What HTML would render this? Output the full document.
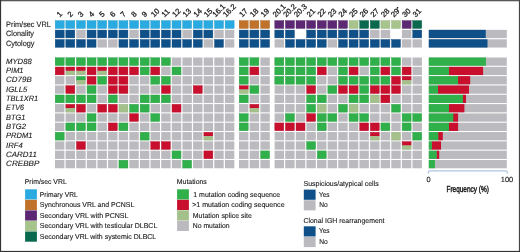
<!DOCTYPE html>
<html><head><meta charset="utf-8"><style>
html,body{margin:0;padding:0;background:#fff;}
svg{display:block;font-family:"Liberation Sans",sans-serif;fill:#1a1a1a;}
text{stroke:#1a1a1a;stroke-width:0.12px;text-rendering:geometricPrecision;}
</style></head><body>
<svg width="520" height="252" viewBox="0 0 520 252">
<rect x="0" y="0" width="520" height="252" fill="#fff"/>
<rect x="0.00" y="0.00" width="520.00" height="1.30" fill="#585858"/>
<rect x="0.00" y="0.00" width="1.10" height="252.00" fill="#333"/>
<rect x="518.90" y="0.00" width="1.10" height="252.00" fill="#444"/>
<rect x="0.00" y="250.90" width="520.00" height="1.10" fill="#333"/>
<rect x="55.20" y="20.60" width="9.00" height="7.85" fill="#29abe2" stroke="#2496c6" stroke-width="0.4"/>
<rect x="65.82" y="20.60" width="9.00" height="7.85" fill="#29abe2" stroke="#2496c6" stroke-width="0.4"/>
<rect x="76.44" y="20.60" width="9.00" height="7.85" fill="#29abe2" stroke="#2496c6" stroke-width="0.4"/>
<rect x="87.06" y="20.60" width="9.00" height="7.85" fill="#29abe2" stroke="#2496c6" stroke-width="0.4"/>
<rect x="97.68" y="20.60" width="9.00" height="7.85" fill="#29abe2" stroke="#2496c6" stroke-width="0.4"/>
<rect x="108.30" y="20.60" width="9.00" height="7.85" fill="#29abe2" stroke="#2496c6" stroke-width="0.4"/>
<rect x="118.92" y="20.60" width="9.00" height="7.85" fill="#29abe2" stroke="#2496c6" stroke-width="0.4"/>
<rect x="129.54" y="20.60" width="9.00" height="7.85" fill="#29abe2" stroke="#2496c6" stroke-width="0.4"/>
<rect x="140.16" y="20.60" width="9.00" height="7.85" fill="#29abe2" stroke="#2496c6" stroke-width="0.4"/>
<rect x="150.78" y="20.60" width="9.00" height="7.85" fill="#29abe2" stroke="#2496c6" stroke-width="0.4"/>
<rect x="161.40" y="20.60" width="9.00" height="7.85" fill="#29abe2" stroke="#2496c6" stroke-width="0.4"/>
<rect x="172.02" y="20.60" width="9.00" height="7.85" fill="#29abe2" stroke="#2496c6" stroke-width="0.4"/>
<rect x="182.64" y="20.60" width="9.00" height="7.85" fill="#29abe2" stroke="#2496c6" stroke-width="0.4"/>
<rect x="193.26" y="20.60" width="9.00" height="7.85" fill="#29abe2" stroke="#2496c6" stroke-width="0.4"/>
<rect x="203.88" y="20.60" width="9.00" height="7.85" fill="#29abe2" stroke="#2496c6" stroke-width="0.4"/>
<rect x="214.50" y="20.60" width="9.00" height="7.85" fill="#29abe2" stroke="#2496c6" stroke-width="0.4"/>
<rect x="225.12" y="20.60" width="9.00" height="7.85" fill="#29abe2" stroke="#2496c6" stroke-width="0.4"/>
<rect x="239.20" y="20.60" width="9.00" height="7.85" fill="#c0722a" stroke="#a86424" stroke-width="0.4"/>
<rect x="249.90" y="20.60" width="9.00" height="7.85" fill="#c0722a" stroke="#a86424" stroke-width="0.4"/>
<rect x="260.60" y="20.60" width="9.00" height="7.85" fill="#c0722a" stroke="#a86424" stroke-width="0.4"/>
<rect x="274.80" y="20.60" width="9.00" height="7.85" fill="#5d2873" stroke="#512365" stroke-width="0.4"/>
<rect x="285.41" y="20.60" width="9.00" height="7.85" fill="#5d2873" stroke="#512365" stroke-width="0.4"/>
<rect x="296.02" y="20.60" width="9.00" height="7.85" fill="#5d2873" stroke="#512365" stroke-width="0.4"/>
<rect x="306.63" y="20.60" width="9.00" height="7.85" fill="#5d2873" stroke="#512365" stroke-width="0.4"/>
<rect x="317.24" y="20.60" width="9.00" height="7.85" fill="#5d2873" stroke="#512365" stroke-width="0.4"/>
<rect x="327.85" y="20.60" width="9.00" height="7.85" fill="#5d2873" stroke="#512365" stroke-width="0.4"/>
<rect x="338.46" y="20.60" width="9.00" height="7.85" fill="#5d2873" stroke="#512365" stroke-width="0.4"/>
<rect x="349.07" y="20.60" width="9.00" height="7.85" fill="#a6c48c" stroke="#92ac7b" stroke-width="0.4"/>
<rect x="359.68" y="20.60" width="9.00" height="7.85" fill="#08694f" stroke="#075c45" stroke-width="0.4"/>
<rect x="370.29" y="20.60" width="9.00" height="7.85" fill="#08694f" stroke="#075c45" stroke-width="0.4"/>
<rect x="380.90" y="20.60" width="9.00" height="7.85" fill="#a6c48c" stroke="#92ac7b" stroke-width="0.4"/>
<rect x="391.51" y="20.60" width="9.00" height="7.85" fill="#a6c48c" stroke="#92ac7b" stroke-width="0.4"/>
<rect x="402.12" y="20.60" width="9.00" height="7.85" fill="#5d2873" stroke="#512365" stroke-width="0.4"/>
<rect x="412.73" y="20.60" width="9.00" height="7.85" fill="#08694f" stroke="#075c45" stroke-width="0.4"/>
<rect x="55.20" y="30.05" width="9.00" height="7.85" fill="#0f5089" stroke="#0d4678" stroke-width="0.4"/>
<rect x="65.82" y="30.05" width="9.00" height="7.85" fill="#0f5089" stroke="#0d4678" stroke-width="0.4"/>
<rect x="76.24" y="29.85" width="9.40" height="8.25" fill="#bbbabf"/>
<rect x="87.06" y="30.05" width="9.00" height="7.85" fill="#0f5089" stroke="#0d4678" stroke-width="0.4"/>
<rect x="97.68" y="30.05" width="9.00" height="7.85" fill="#0f5089" stroke="#0d4678" stroke-width="0.4"/>
<rect x="108.30" y="30.05" width="9.00" height="7.85" fill="#0f5089" stroke="#0d4678" stroke-width="0.4"/>
<rect x="118.92" y="30.05" width="9.00" height="7.85" fill="#0f5089" stroke="#0d4678" stroke-width="0.4"/>
<rect x="129.34" y="29.85" width="9.40" height="8.25" fill="#bbbabf"/>
<rect x="140.16" y="30.05" width="9.00" height="7.85" fill="#0f5089" stroke="#0d4678" stroke-width="0.4"/>
<rect x="150.78" y="30.05" width="9.00" height="7.85" fill="#0f5089" stroke="#0d4678" stroke-width="0.4"/>
<rect x="161.40" y="30.05" width="9.00" height="7.85" fill="#0f5089" stroke="#0d4678" stroke-width="0.4"/>
<rect x="172.02" y="30.05" width="9.00" height="7.85" fill="#0f5089" stroke="#0d4678" stroke-width="0.4"/>
<rect x="182.44" y="29.85" width="9.40" height="8.25" fill="#bbbabf"/>
<rect x="193.26" y="30.05" width="9.00" height="7.85" fill="#0f5089" stroke="#0d4678" stroke-width="0.4"/>
<rect x="203.88" y="30.05" width="9.00" height="7.85" fill="#0f5089" stroke="#0d4678" stroke-width="0.4"/>
<rect x="214.30" y="29.85" width="9.40" height="8.25" fill="#bbbabf"/>
<rect x="224.92" y="29.85" width="9.40" height="8.25" fill="#bbbabf"/>
<rect x="239.20" y="30.05" width="9.00" height="7.85" fill="#0f5089" stroke="#0d4678" stroke-width="0.4"/>
<rect x="249.90" y="30.05" width="9.00" height="7.85" fill="#0f5089" stroke="#0d4678" stroke-width="0.4"/>
<rect x="260.60" y="30.05" width="9.00" height="7.85" fill="#0f5089" stroke="#0d4678" stroke-width="0.4"/>
<rect x="274.80" y="30.05" width="9.00" height="7.85" fill="#0f5089" stroke="#0d4678" stroke-width="0.4"/>
<rect x="285.41" y="30.05" width="9.00" height="7.85" fill="#0f5089" stroke="#0d4678" stroke-width="0.4"/>
<rect x="306.63" y="30.05" width="9.00" height="7.85" fill="#0f5089" stroke="#0d4678" stroke-width="0.4"/>
<rect x="317.24" y="30.05" width="9.00" height="7.85" fill="#0f5089" stroke="#0d4678" stroke-width="0.4"/>
<rect x="327.85" y="30.05" width="9.00" height="7.85" fill="#0f5089" stroke="#0d4678" stroke-width="0.4"/>
<rect x="338.46" y="30.05" width="9.00" height="7.85" fill="#0f5089" stroke="#0d4678" stroke-width="0.4"/>
<rect x="349.07" y="30.05" width="9.00" height="7.85" fill="#0f5089" stroke="#0d4678" stroke-width="0.4"/>
<rect x="359.68" y="30.05" width="9.00" height="7.85" fill="#0f5089" stroke="#0d4678" stroke-width="0.4"/>
<rect x="370.09" y="29.85" width="9.40" height="8.25" fill="#bbbabf"/>
<rect x="380.70" y="29.85" width="9.40" height="8.25" fill="#bbbabf"/>
<rect x="401.92" y="29.85" width="9.40" height="8.25" fill="#bbbabf"/>
<rect x="412.73" y="30.05" width="9.00" height="7.85" fill="#0f5089" stroke="#0d4678" stroke-width="0.4"/>
<rect x="428.80" y="29.85" width="78.00" height="8.25" fill="#bbbabf"/>
<rect x="428.80" y="29.85" width="56.95" height="8.25" fill="#0f5089"/>
<rect x="55.20" y="39.50" width="9.00" height="7.85" fill="#0f5089" stroke="#0d4678" stroke-width="0.4"/>
<rect x="65.82" y="39.50" width="9.00" height="7.85" fill="#0f5089" stroke="#0d4678" stroke-width="0.4"/>
<rect x="76.44" y="39.50" width="9.00" height="7.85" fill="#0f5089" stroke="#0d4678" stroke-width="0.4"/>
<rect x="87.06" y="39.50" width="9.00" height="7.85" fill="#0f5089" stroke="#0d4678" stroke-width="0.4"/>
<rect x="97.48" y="39.30" width="9.40" height="8.25" fill="#bbbabf"/>
<rect x="108.10" y="39.30" width="9.40" height="8.25" fill="#bbbabf"/>
<rect x="118.92" y="39.50" width="9.00" height="7.85" fill="#0f5089" stroke="#0d4678" stroke-width="0.4"/>
<rect x="129.54" y="39.50" width="9.00" height="7.85" fill="#0f5089" stroke="#0d4678" stroke-width="0.4"/>
<rect x="140.16" y="39.50" width="9.00" height="7.85" fill="#0f5089" stroke="#0d4678" stroke-width="0.4"/>
<rect x="150.78" y="39.50" width="9.00" height="7.85" fill="#0f5089" stroke="#0d4678" stroke-width="0.4"/>
<rect x="161.40" y="39.50" width="9.00" height="7.85" fill="#0f5089" stroke="#0d4678" stroke-width="0.4"/>
<rect x="172.02" y="39.50" width="9.00" height="7.85" fill="#0f5089" stroke="#0d4678" stroke-width="0.4"/>
<rect x="182.64" y="39.50" width="9.00" height="7.85" fill="#0f5089" stroke="#0d4678" stroke-width="0.4"/>
<rect x="193.26" y="39.50" width="9.00" height="7.85" fill="#0f5089" stroke="#0d4678" stroke-width="0.4"/>
<rect x="203.68" y="39.30" width="9.40" height="8.25" fill="#bbbabf"/>
<rect x="214.50" y="39.50" width="9.00" height="7.85" fill="#0f5089" stroke="#0d4678" stroke-width="0.4"/>
<rect x="224.92" y="39.30" width="9.40" height="8.25" fill="#bbbabf"/>
<rect x="239.20" y="39.50" width="9.00" height="7.85" fill="#0f5089" stroke="#0d4678" stroke-width="0.4"/>
<rect x="249.90" y="39.50" width="9.00" height="7.85" fill="#0f5089" stroke="#0d4678" stroke-width="0.4"/>
<rect x="260.60" y="39.50" width="9.00" height="7.85" fill="#0f5089" stroke="#0d4678" stroke-width="0.4"/>
<rect x="274.60" y="39.30" width="9.40" height="8.25" fill="#bbbabf"/>
<rect x="285.41" y="39.50" width="9.00" height="7.85" fill="#0f5089" stroke="#0d4678" stroke-width="0.4"/>
<rect x="296.02" y="39.50" width="9.00" height="7.85" fill="#0f5089" stroke="#0d4678" stroke-width="0.4"/>
<rect x="306.63" y="39.50" width="9.00" height="7.85" fill="#0f5089" stroke="#0d4678" stroke-width="0.4"/>
<rect x="317.24" y="39.50" width="9.00" height="7.85" fill="#0f5089" stroke="#0d4678" stroke-width="0.4"/>
<rect x="327.65" y="39.30" width="9.40" height="8.25" fill="#bbbabf"/>
<rect x="338.46" y="39.50" width="9.00" height="7.85" fill="#0f5089" stroke="#0d4678" stroke-width="0.4"/>
<rect x="349.07" y="39.50" width="9.00" height="7.85" fill="#0f5089" stroke="#0d4678" stroke-width="0.4"/>
<rect x="359.68" y="39.50" width="9.00" height="7.85" fill="#0f5089" stroke="#0d4678" stroke-width="0.4"/>
<rect x="370.29" y="39.50" width="9.00" height="7.85" fill="#0f5089" stroke="#0d4678" stroke-width="0.4"/>
<rect x="380.90" y="39.50" width="9.00" height="7.85" fill="#0f5089" stroke="#0d4678" stroke-width="0.4"/>
<rect x="391.51" y="39.50" width="9.00" height="7.85" fill="#0f5089" stroke="#0d4678" stroke-width="0.4"/>
<rect x="401.92" y="39.30" width="9.40" height="8.25" fill="#bbbabf"/>
<rect x="412.53" y="39.30" width="9.40" height="8.25" fill="#bbbabf"/>
<rect x="428.80" y="39.30" width="78.00" height="8.25" fill="#bbbabf"/>
<rect x="428.80" y="39.30" width="58.70" height="8.25" fill="#0f5089"/>
<rect x="55.20" y="57.70" width="9.00" height="7.85" fill="#2fb04a" stroke="#299a41" stroke-width="0.4"/>
<rect x="65.82" y="57.70" width="9.00" height="7.85" fill="#2fb04a" stroke="#299a41" stroke-width="0.4"/>
<rect x="76.44" y="57.70" width="9.00" height="7.85" fill="#2fb04a" stroke="#299a41" stroke-width="0.4"/>
<rect x="87.06" y="57.70" width="9.00" height="7.85" fill="#2fb04a" stroke="#299a41" stroke-width="0.4"/>
<rect x="97.68" y="57.70" width="9.00" height="7.85" fill="#2fb04a" stroke="#299a41" stroke-width="0.4"/>
<rect x="108.30" y="57.70" width="9.00" height="7.85" fill="#2fb04a" stroke="#299a41" stroke-width="0.4"/>
<rect x="118.92" y="57.70" width="9.00" height="7.85" fill="#2fb04a" stroke="#299a41" stroke-width="0.4"/>
<rect x="129.54" y="57.70" width="9.00" height="7.85" fill="#2fb04a" stroke="#299a41" stroke-width="0.4"/>
<rect x="140.16" y="57.70" width="9.00" height="7.85" fill="#2fb04a" stroke="#299a41" stroke-width="0.4"/>
<rect x="150.78" y="57.70" width="9.00" height="7.85" fill="#2fb04a" stroke="#299a41" stroke-width="0.4"/>
<rect x="161.40" y="57.70" width="9.00" height="7.85" fill="#2fb04a" stroke="#299a41" stroke-width="0.4"/>
<rect x="171.82" y="57.50" width="9.40" height="8.25" fill="#bbbabf"/>
<rect x="182.44" y="57.50" width="9.40" height="8.25" fill="#bbbabf"/>
<rect x="193.06" y="57.50" width="9.40" height="8.25" fill="#bbbabf"/>
<rect x="203.68" y="57.50" width="9.40" height="8.25" fill="#bbbabf"/>
<rect x="214.30" y="57.50" width="9.40" height="8.25" fill="#bbbabf"/>
<rect x="224.92" y="57.50" width="9.40" height="8.25" fill="#bbbabf"/>
<rect x="239.20" y="57.70" width="9.00" height="7.85" fill="#2fb04a" stroke="#299a41" stroke-width="0.4"/>
<rect x="249.90" y="57.70" width="9.00" height="7.85" fill="#2fb04a" stroke="#299a41" stroke-width="0.4"/>
<rect x="260.40" y="57.50" width="9.40" height="8.25" fill="#bbbabf"/>
<rect x="274.80" y="57.70" width="9.00" height="7.85" fill="#2fb04a" stroke="#299a41" stroke-width="0.4"/>
<rect x="285.41" y="57.70" width="9.00" height="7.85" fill="#2fb04a" stroke="#299a41" stroke-width="0.4"/>
<rect x="296.02" y="57.70" width="9.00" height="7.85" fill="#2fb04a" stroke="#299a41" stroke-width="0.4"/>
<rect x="306.63" y="57.70" width="9.00" height="7.85" fill="#2fb04a" stroke="#299a41" stroke-width="0.4"/>
<rect x="317.24" y="57.70" width="9.00" height="7.85" fill="#2fb04a" stroke="#299a41" stroke-width="0.4"/>
<rect x="327.85" y="57.70" width="9.00" height="7.85" fill="#2fb04a" stroke="#299a41" stroke-width="0.4"/>
<rect x="338.46" y="57.70" width="9.00" height="7.85" fill="#2fb04a" stroke="#299a41" stroke-width="0.4"/>
<rect x="349.07" y="57.70" width="9.00" height="7.85" fill="#2fb04a" stroke="#299a41" stroke-width="0.4"/>
<rect x="359.68" y="57.70" width="9.00" height="7.85" fill="#2fb04a" stroke="#299a41" stroke-width="0.4"/>
<rect x="370.29" y="57.70" width="9.00" height="7.85" fill="#2fb04a" stroke="#299a41" stroke-width="0.4"/>
<rect x="380.90" y="57.70" width="9.00" height="7.85" fill="#2fb04a" stroke="#299a41" stroke-width="0.4"/>
<rect x="391.51" y="57.70" width="9.00" height="7.85" fill="#2fb04a" stroke="#299a41" stroke-width="0.4"/>
<rect x="401.92" y="57.50" width="9.40" height="8.25" fill="#bbbabf"/>
<rect x="412.53" y="57.50" width="9.40" height="8.25" fill="#bbbabf"/>
<rect x="428.80" y="57.50" width="78.00" height="8.25" fill="#bbbabf"/>
<rect x="428.80" y="57.50" width="57.10" height="8.25" fill="#2fb04a"/>
<rect x="55.20" y="67.02" width="9.00" height="7.85" fill="#c8102e" stroke="#b00e28" stroke-width="0.4"/>
<rect x="65.82" y="67.02" width="9.00" height="3.73" fill="#c8102e" stroke="#b00e28" stroke-width="0.4"/>
<rect x="65.82" y="71.14" width="9.00" height="3.73" fill="#a4c08b" stroke="#90a87a" stroke-width="0.4"/>
<rect x="76.44" y="67.02" width="9.00" height="3.73" fill="#c8102e" stroke="#b00e28" stroke-width="0.4"/>
<rect x="76.44" y="71.14" width="9.00" height="3.73" fill="#a4c08b" stroke="#90a87a" stroke-width="0.4"/>
<rect x="87.06" y="67.02" width="9.00" height="7.85" fill="#c8102e" stroke="#b00e28" stroke-width="0.4"/>
<rect x="97.68" y="67.02" width="9.00" height="3.73" fill="#c8102e" stroke="#b00e28" stroke-width="0.4"/>
<rect x="97.68" y="71.14" width="9.00" height="3.73" fill="#a4c08b" stroke="#90a87a" stroke-width="0.4"/>
<rect x="108.30" y="67.02" width="9.00" height="7.85" fill="#c8102e" stroke="#b00e28" stroke-width="0.4"/>
<rect x="118.92" y="67.02" width="9.00" height="7.85" fill="#c8102e" stroke="#b00e28" stroke-width="0.4"/>
<rect x="129.54" y="67.02" width="9.00" height="7.85" fill="#c8102e" stroke="#b00e28" stroke-width="0.4"/>
<rect x="140.16" y="67.02" width="9.00" height="7.85" fill="#2fb04a" stroke="#299a41" stroke-width="0.4"/>
<rect x="150.78" y="67.02" width="9.00" height="7.85" fill="#c8102e" stroke="#b00e28" stroke-width="0.4"/>
<rect x="161.20" y="66.82" width="9.40" height="8.25" fill="#bbbabf"/>
<rect x="172.02" y="67.02" width="9.00" height="7.85" fill="#2fb04a" stroke="#299a41" stroke-width="0.4"/>
<rect x="182.44" y="66.82" width="9.40" height="8.25" fill="#bbbabf"/>
<rect x="193.06" y="66.82" width="9.40" height="8.25" fill="#bbbabf"/>
<rect x="203.68" y="66.82" width="9.40" height="8.25" fill="#bbbabf"/>
<rect x="214.30" y="66.82" width="9.40" height="8.25" fill="#bbbabf"/>
<rect x="224.92" y="66.82" width="9.40" height="8.25" fill="#bbbabf"/>
<rect x="239.20" y="67.02" width="9.00" height="7.85" fill="#2fb04a" stroke="#299a41" stroke-width="0.4"/>
<rect x="249.90" y="67.02" width="9.00" height="7.85" fill="#c8102e" stroke="#b00e28" stroke-width="0.4"/>
<rect x="260.40" y="66.82" width="9.40" height="8.25" fill="#bbbabf"/>
<rect x="274.80" y="67.02" width="9.00" height="7.85" fill="#2fb04a" stroke="#299a41" stroke-width="0.4"/>
<rect x="285.41" y="67.02" width="9.00" height="7.85" fill="#2fb04a" stroke="#299a41" stroke-width="0.4"/>
<rect x="296.02" y="67.02" width="9.00" height="7.85" fill="#2fb04a" stroke="#299a41" stroke-width="0.4"/>
<rect x="306.63" y="67.02" width="9.00" height="7.85" fill="#2fb04a" stroke="#299a41" stroke-width="0.4"/>
<rect x="317.24" y="67.02" width="9.00" height="7.85" fill="#c8102e" stroke="#b00e28" stroke-width="0.4"/>
<rect x="327.65" y="66.82" width="9.40" height="8.25" fill="#bbbabf"/>
<rect x="338.46" y="67.02" width="9.00" height="7.85" fill="#2fb04a" stroke="#299a41" stroke-width="0.4"/>
<rect x="349.07" y="67.02" width="9.00" height="7.85" fill="#c8102e" stroke="#b00e28" stroke-width="0.4"/>
<rect x="359.48" y="66.82" width="9.40" height="8.25" fill="#bbbabf"/>
<rect x="370.29" y="67.02" width="9.00" height="7.85" fill="#2fb04a" stroke="#299a41" stroke-width="0.4"/>
<rect x="380.90" y="67.02" width="9.00" height="7.85" fill="#c8102e" stroke="#b00e28" stroke-width="0.4"/>
<rect x="391.51" y="67.02" width="9.00" height="7.85" fill="#2fb04a" stroke="#299a41" stroke-width="0.4"/>
<rect x="402.12" y="67.02" width="9.00" height="7.85" fill="#c8102e" stroke="#b00e28" stroke-width="0.4"/>
<rect x="412.53" y="66.82" width="9.40" height="8.25" fill="#bbbabf"/>
<rect x="428.80" y="66.82" width="78.00" height="8.25" fill="#bbbabf"/>
<rect x="448.70" y="66.82" width="34.40" height="8.25" fill="#c8102e"/>
<rect x="428.80" y="66.82" width="20.20" height="8.25" fill="#2fb04a"/>
<rect x="55.00" y="76.14" width="9.40" height="8.25" fill="#bbbabf"/>
<rect x="65.62" y="76.14" width="9.40" height="8.25" fill="#bbbabf"/>
<rect x="76.44" y="76.34" width="9.00" height="3.73" fill="#2fb04a" stroke="#299a41" stroke-width="0.4"/>
<rect x="76.44" y="80.47" width="9.00" height="3.73" fill="#a4c08b" stroke="#90a87a" stroke-width="0.4"/>
<rect x="87.06" y="76.34" width="9.00" height="7.85" fill="#c8102e" stroke="#b00e28" stroke-width="0.4"/>
<rect x="97.68" y="76.34" width="9.00" height="7.85" fill="#2fb04a" stroke="#299a41" stroke-width="0.4"/>
<rect x="108.30" y="76.34" width="9.00" height="7.85" fill="#c8102e" stroke="#b00e28" stroke-width="0.4"/>
<rect x="118.92" y="76.34" width="9.00" height="7.85" fill="#c8102e" stroke="#b00e28" stroke-width="0.4"/>
<rect x="129.34" y="76.14" width="9.40" height="8.25" fill="#bbbabf"/>
<rect x="139.96" y="76.14" width="9.40" height="8.25" fill="#bbbabf"/>
<rect x="150.78" y="76.34" width="9.00" height="7.85" fill="#2fb04a" stroke="#299a41" stroke-width="0.4"/>
<rect x="161.40" y="76.34" width="9.00" height="7.85" fill="#2fb04a" stroke="#299a41" stroke-width="0.4"/>
<rect x="171.82" y="76.14" width="9.40" height="8.25" fill="#bbbabf"/>
<rect x="182.44" y="76.14" width="9.40" height="8.25" fill="#bbbabf"/>
<rect x="193.06" y="76.14" width="9.40" height="8.25" fill="#bbbabf"/>
<rect x="203.68" y="76.14" width="9.40" height="8.25" fill="#bbbabf"/>
<rect x="214.30" y="76.14" width="9.40" height="8.25" fill="#bbbabf"/>
<rect x="224.92" y="76.14" width="9.40" height="8.25" fill="#bbbabf"/>
<rect x="239.20" y="76.34" width="9.00" height="7.85" fill="#2fb04a" stroke="#299a41" stroke-width="0.4"/>
<rect x="249.70" y="76.14" width="9.40" height="8.25" fill="#bbbabf"/>
<rect x="260.40" y="76.14" width="9.40" height="8.25" fill="#bbbabf"/>
<rect x="274.80" y="76.34" width="9.00" height="7.85" fill="#2fb04a" stroke="#299a41" stroke-width="0.4"/>
<rect x="285.41" y="76.34" width="9.00" height="7.85" fill="#2fb04a" stroke="#299a41" stroke-width="0.4"/>
<rect x="296.02" y="76.34" width="9.00" height="7.85" fill="#2fb04a" stroke="#299a41" stroke-width="0.4"/>
<rect x="306.63" y="76.34" width="9.00" height="7.85" fill="#2fb04a" stroke="#299a41" stroke-width="0.4"/>
<rect x="317.04" y="76.14" width="9.40" height="8.25" fill="#bbbabf"/>
<rect x="327.65" y="76.14" width="9.40" height="8.25" fill="#bbbabf"/>
<rect x="338.46" y="76.34" width="9.00" height="7.85" fill="#2fb04a" stroke="#299a41" stroke-width="0.4"/>
<rect x="349.07" y="76.34" width="9.00" height="7.85" fill="#2fb04a" stroke="#299a41" stroke-width="0.4"/>
<rect x="359.68" y="76.34" width="9.00" height="7.85" fill="#2fb04a" stroke="#299a41" stroke-width="0.4"/>
<rect x="370.29" y="76.34" width="9.00" height="7.85" fill="#2fb04a" stroke="#299a41" stroke-width="0.4"/>
<rect x="380.90" y="76.34" width="9.00" height="7.85" fill="#2fb04a" stroke="#299a41" stroke-width="0.4"/>
<rect x="391.51" y="76.34" width="9.00" height="7.85" fill="#c8102e" stroke="#b00e28" stroke-width="0.4"/>
<rect x="402.12" y="76.34" width="9.00" height="3.73" fill="#c8102e" stroke="#b00e28" stroke-width="0.4"/>
<rect x="402.12" y="80.47" width="9.00" height="3.73" fill="#a4c08b" stroke="#90a87a" stroke-width="0.4"/>
<rect x="412.53" y="76.14" width="9.40" height="8.25" fill="#bbbabf"/>
<rect x="428.80" y="76.14" width="78.00" height="8.25" fill="#bbbabf"/>
<rect x="457.80" y="76.14" width="12.40" height="8.25" fill="#c8102e"/>
<rect x="428.80" y="76.14" width="29.30" height="8.25" fill="#2fb04a"/>
<rect x="55.00" y="85.46" width="9.40" height="8.25" fill="#bbbabf"/>
<rect x="65.82" y="85.66" width="9.00" height="7.85" fill="#c8102e" stroke="#b00e28" stroke-width="0.4"/>
<rect x="76.24" y="85.46" width="9.40" height="8.25" fill="#bbbabf"/>
<rect x="87.06" y="85.66" width="9.00" height="7.85" fill="#2fb04a" stroke="#299a41" stroke-width="0.4"/>
<rect x="97.48" y="85.46" width="9.40" height="8.25" fill="#bbbabf"/>
<rect x="108.30" y="85.66" width="9.00" height="7.85" fill="#c8102e" stroke="#b00e28" stroke-width="0.4"/>
<rect x="118.92" y="85.66" width="9.00" height="7.85" fill="#c8102e" stroke="#b00e28" stroke-width="0.4"/>
<rect x="129.34" y="85.46" width="9.40" height="8.25" fill="#bbbabf"/>
<rect x="139.96" y="85.46" width="9.40" height="8.25" fill="#bbbabf"/>
<rect x="150.58" y="85.46" width="9.40" height="8.25" fill="#bbbabf"/>
<rect x="161.40" y="85.66" width="9.00" height="7.85" fill="#c8102e" stroke="#b00e28" stroke-width="0.4"/>
<rect x="171.82" y="85.46" width="9.40" height="8.25" fill="#bbbabf"/>
<rect x="182.44" y="85.46" width="9.40" height="8.25" fill="#bbbabf"/>
<rect x="193.26" y="85.66" width="9.00" height="7.85" fill="#c8102e" stroke="#b00e28" stroke-width="0.4"/>
<rect x="203.68" y="85.46" width="9.40" height="8.25" fill="#bbbabf"/>
<rect x="214.30" y="85.46" width="9.40" height="8.25" fill="#bbbabf"/>
<rect x="224.92" y="85.46" width="9.40" height="8.25" fill="#bbbabf"/>
<rect x="239.20" y="85.66" width="9.00" height="3.73" fill="#c8102e" stroke="#b00e28" stroke-width="0.4"/>
<rect x="239.20" y="89.79" width="9.00" height="3.73" fill="#a4c08b" stroke="#90a87a" stroke-width="0.4"/>
<rect x="249.90" y="85.66" width="9.00" height="7.85" fill="#2fb04a" stroke="#299a41" stroke-width="0.4"/>
<rect x="260.40" y="85.46" width="9.40" height="8.25" fill="#bbbabf"/>
<rect x="274.60" y="85.46" width="9.40" height="8.25" fill="#bbbabf"/>
<rect x="285.21" y="85.46" width="9.40" height="8.25" fill="#bbbabf"/>
<rect x="295.82" y="85.46" width="9.40" height="8.25" fill="#bbbabf"/>
<rect x="306.63" y="85.66" width="9.00" height="7.85" fill="#c8102e" stroke="#b00e28" stroke-width="0.4"/>
<rect x="317.04" y="85.46" width="9.40" height="8.25" fill="#bbbabf"/>
<rect x="327.85" y="85.66" width="9.00" height="7.85" fill="#2fb04a" stroke="#299a41" stroke-width="0.4"/>
<rect x="338.46" y="85.66" width="9.00" height="7.85" fill="#c8102e" stroke="#b00e28" stroke-width="0.4"/>
<rect x="349.07" y="85.66" width="9.00" height="7.85" fill="#c8102e" stroke="#b00e28" stroke-width="0.4"/>
<rect x="359.68" y="85.66" width="9.00" height="7.85" fill="#2fb04a" stroke="#299a41" stroke-width="0.4"/>
<rect x="370.29" y="85.66" width="9.00" height="7.85" fill="#c8102e" stroke="#b00e28" stroke-width="0.4"/>
<rect x="380.90" y="85.66" width="9.00" height="7.85" fill="#c8102e" stroke="#b00e28" stroke-width="0.4"/>
<rect x="391.51" y="85.66" width="9.00" height="7.85" fill="#c8102e" stroke="#b00e28" stroke-width="0.4"/>
<rect x="401.92" y="85.46" width="9.40" height="8.25" fill="#bbbabf"/>
<rect x="412.53" y="85.46" width="9.40" height="8.25" fill="#bbbabf"/>
<rect x="428.80" y="85.46" width="78.00" height="8.25" fill="#bbbabf"/>
<rect x="437.70" y="85.46" width="31.30" height="8.25" fill="#c8102e"/>
<rect x="428.80" y="85.46" width="9.20" height="8.25" fill="#2fb04a"/>
<rect x="55.20" y="94.98" width="9.00" height="7.85" fill="#2fb04a" stroke="#299a41" stroke-width="0.4"/>
<rect x="65.82" y="94.98" width="9.00" height="7.85" fill="#2fb04a" stroke="#299a41" stroke-width="0.4"/>
<rect x="76.44" y="94.98" width="9.00" height="7.85" fill="#2fb04a" stroke="#299a41" stroke-width="0.4"/>
<rect x="87.06" y="94.98" width="9.00" height="7.85" fill="#2fb04a" stroke="#299a41" stroke-width="0.4"/>
<rect x="97.48" y="94.78" width="9.40" height="8.25" fill="#bbbabf"/>
<rect x="108.30" y="94.98" width="9.00" height="7.85" fill="#2fb04a" stroke="#299a41" stroke-width="0.4"/>
<rect x="118.72" y="94.78" width="9.40" height="8.25" fill="#bbbabf"/>
<rect x="129.34" y="94.78" width="9.40" height="8.25" fill="#bbbabf"/>
<rect x="140.16" y="94.98" width="9.00" height="7.85" fill="#2fb04a" stroke="#299a41" stroke-width="0.4"/>
<rect x="150.78" y="94.98" width="9.00" height="7.85" fill="#2fb04a" stroke="#299a41" stroke-width="0.4"/>
<rect x="161.40" y="94.98" width="9.00" height="7.85" fill="#2fb04a" stroke="#299a41" stroke-width="0.4"/>
<rect x="171.82" y="94.78" width="9.40" height="8.25" fill="#bbbabf"/>
<rect x="182.44" y="94.78" width="9.40" height="8.25" fill="#bbbabf"/>
<rect x="193.06" y="94.78" width="9.40" height="8.25" fill="#bbbabf"/>
<rect x="203.68" y="94.78" width="9.40" height="8.25" fill="#bbbabf"/>
<rect x="214.30" y="94.78" width="9.40" height="8.25" fill="#bbbabf"/>
<rect x="224.92" y="94.78" width="9.40" height="8.25" fill="#bbbabf"/>
<rect x="239.20" y="94.98" width="9.00" height="7.85" fill="#2fb04a" stroke="#299a41" stroke-width="0.4"/>
<rect x="249.70" y="94.78" width="9.40" height="8.25" fill="#bbbabf"/>
<rect x="260.40" y="94.78" width="9.40" height="8.25" fill="#bbbabf"/>
<rect x="274.60" y="94.78" width="9.40" height="8.25" fill="#bbbabf"/>
<rect x="285.21" y="94.78" width="9.40" height="8.25" fill="#bbbabf"/>
<rect x="295.82" y="94.78" width="9.40" height="8.25" fill="#bbbabf"/>
<rect x="306.63" y="94.98" width="9.00" height="7.85" fill="#2fb04a" stroke="#299a41" stroke-width="0.4"/>
<rect x="317.24" y="94.98" width="9.00" height="7.85" fill="#2fb04a" stroke="#299a41" stroke-width="0.4"/>
<rect x="327.65" y="94.78" width="9.40" height="8.25" fill="#bbbabf"/>
<rect x="338.26" y="94.78" width="9.40" height="8.25" fill="#bbbabf"/>
<rect x="349.07" y="94.98" width="9.00" height="7.85" fill="#2fb04a" stroke="#299a41" stroke-width="0.4"/>
<rect x="359.68" y="94.98" width="9.00" height="7.85" fill="#2fb04a" stroke="#299a41" stroke-width="0.4"/>
<rect x="370.29" y="94.98" width="9.00" height="7.85" fill="#a4c08b" stroke="#90a87a" stroke-width="0.4"/>
<rect x="380.90" y="94.98" width="9.00" height="7.85" fill="#c8102e" stroke="#b00e28" stroke-width="0.4"/>
<rect x="391.31" y="94.78" width="9.40" height="8.25" fill="#bbbabf"/>
<rect x="401.92" y="94.78" width="9.40" height="8.25" fill="#bbbabf"/>
<rect x="412.53" y="94.78" width="9.40" height="8.25" fill="#bbbabf"/>
<rect x="428.80" y="94.78" width="78.00" height="8.25" fill="#bbbabf"/>
<rect x="462.60" y="94.78" width="3.40" height="8.25" fill="#c8102e"/>
<rect x="428.80" y="94.78" width="34.10" height="8.25" fill="#2fb04a"/>
<rect x="55.00" y="104.10" width="9.40" height="8.25" fill="#bbbabf"/>
<rect x="65.82" y="104.30" width="9.00" height="3.73" fill="#c8102e" stroke="#b00e28" stroke-width="0.4"/>
<rect x="65.82" y="108.42" width="9.00" height="3.73" fill="#a4c08b" stroke="#90a87a" stroke-width="0.4"/>
<rect x="76.44" y="104.30" width="9.00" height="7.85" fill="#c8102e" stroke="#b00e28" stroke-width="0.4"/>
<rect x="86.86" y="104.10" width="9.40" height="8.25" fill="#bbbabf"/>
<rect x="97.68" y="104.30" width="9.00" height="7.85" fill="#c8102e" stroke="#b00e28" stroke-width="0.4"/>
<rect x="108.30" y="104.30" width="9.00" height="7.85" fill="#c8102e" stroke="#b00e28" stroke-width="0.4"/>
<rect x="118.92" y="104.30" width="9.00" height="7.85" fill="#a4c08b" stroke="#90a87a" stroke-width="0.4"/>
<rect x="129.54" y="104.30" width="9.00" height="7.85" fill="#2fb04a" stroke="#299a41" stroke-width="0.4"/>
<rect x="140.16" y="104.30" width="9.00" height="7.85" fill="#2fb04a" stroke="#299a41" stroke-width="0.4"/>
<rect x="150.58" y="104.10" width="9.40" height="8.25" fill="#bbbabf"/>
<rect x="161.20" y="104.10" width="9.40" height="8.25" fill="#bbbabf"/>
<rect x="172.02" y="104.30" width="9.00" height="7.85" fill="#c8102e" stroke="#b00e28" stroke-width="0.4"/>
<rect x="182.44" y="104.10" width="9.40" height="8.25" fill="#bbbabf"/>
<rect x="193.06" y="104.10" width="9.40" height="8.25" fill="#bbbabf"/>
<rect x="203.68" y="104.10" width="9.40" height="8.25" fill="#bbbabf"/>
<rect x="214.30" y="104.10" width="9.40" height="8.25" fill="#bbbabf"/>
<rect x="224.92" y="104.10" width="9.40" height="8.25" fill="#bbbabf"/>
<rect x="239.00" y="104.10" width="9.40" height="8.25" fill="#bbbabf"/>
<rect x="249.90" y="104.30" width="9.00" height="3.73" fill="#c8102e" stroke="#b00e28" stroke-width="0.4"/>
<rect x="249.90" y="108.42" width="9.00" height="3.73" fill="#a4c08b" stroke="#90a87a" stroke-width="0.4"/>
<rect x="260.40" y="104.10" width="9.40" height="8.25" fill="#bbbabf"/>
<rect x="274.60" y="104.10" width="9.40" height="8.25" fill="#bbbabf"/>
<rect x="285.21" y="104.10" width="9.40" height="8.25" fill="#bbbabf"/>
<rect x="295.82" y="104.10" width="9.40" height="8.25" fill="#bbbabf"/>
<rect x="306.63" y="104.30" width="9.00" height="7.85" fill="#2fb04a" stroke="#299a41" stroke-width="0.4"/>
<rect x="317.24" y="104.30" width="9.00" height="7.85" fill="#a4c08b" stroke="#90a87a" stroke-width="0.4"/>
<rect x="327.65" y="104.10" width="9.40" height="8.25" fill="#bbbabf"/>
<rect x="338.46" y="104.30" width="9.00" height="7.85" fill="#2fb04a" stroke="#299a41" stroke-width="0.4"/>
<rect x="349.07" y="104.30" width="9.00" height="7.85" fill="#a4c08b" stroke="#90a87a" stroke-width="0.4"/>
<rect x="359.48" y="104.10" width="9.40" height="8.25" fill="#bbbabf"/>
<rect x="370.09" y="104.10" width="9.40" height="8.25" fill="#bbbabf"/>
<rect x="380.70" y="104.10" width="9.40" height="8.25" fill="#bbbabf"/>
<rect x="391.51" y="104.30" width="9.00" height="7.85" fill="#2fb04a" stroke="#299a41" stroke-width="0.4"/>
<rect x="401.92" y="104.10" width="9.40" height="8.25" fill="#bbbabf"/>
<rect x="412.53" y="104.10" width="9.40" height="8.25" fill="#bbbabf"/>
<rect x="428.80" y="104.10" width="78.00" height="8.25" fill="#bbbabf"/>
<rect x="448.70" y="104.10" width="15.70" height="8.25" fill="#c8102e"/>
<rect x="428.80" y="104.10" width="20.20" height="8.25" fill="#2fb04a"/>
<rect x="55.00" y="113.42" width="9.40" height="8.25" fill="#bbbabf"/>
<rect x="65.62" y="113.42" width="9.40" height="8.25" fill="#bbbabf"/>
<rect x="76.24" y="113.42" width="9.40" height="8.25" fill="#bbbabf"/>
<rect x="87.06" y="113.62" width="9.00" height="7.85" fill="#2fb04a" stroke="#299a41" stroke-width="0.4"/>
<rect x="97.48" y="113.42" width="9.40" height="8.25" fill="#bbbabf"/>
<rect x="108.10" y="113.42" width="9.40" height="8.25" fill="#bbbabf"/>
<rect x="118.72" y="113.42" width="9.40" height="8.25" fill="#bbbabf"/>
<rect x="129.54" y="113.62" width="9.00" height="7.85" fill="#c8102e" stroke="#b00e28" stroke-width="0.4"/>
<rect x="139.96" y="113.42" width="9.40" height="8.25" fill="#bbbabf"/>
<rect x="150.78" y="113.62" width="9.00" height="7.85" fill="#2fb04a" stroke="#299a41" stroke-width="0.4"/>
<rect x="161.20" y="113.42" width="9.40" height="8.25" fill="#bbbabf"/>
<rect x="171.82" y="113.42" width="9.40" height="8.25" fill="#bbbabf"/>
<rect x="182.44" y="113.42" width="9.40" height="8.25" fill="#bbbabf"/>
<rect x="193.06" y="113.42" width="9.40" height="8.25" fill="#bbbabf"/>
<rect x="203.68" y="113.42" width="9.40" height="8.25" fill="#bbbabf"/>
<rect x="214.30" y="113.42" width="9.40" height="8.25" fill="#bbbabf"/>
<rect x="224.92" y="113.42" width="9.40" height="8.25" fill="#bbbabf"/>
<rect x="239.20" y="113.62" width="9.00" height="7.85" fill="#2fb04a" stroke="#299a41" stroke-width="0.4"/>
<rect x="249.70" y="113.42" width="9.40" height="8.25" fill="#bbbabf"/>
<rect x="260.40" y="113.42" width="9.40" height="8.25" fill="#bbbabf"/>
<rect x="274.60" y="113.42" width="9.40" height="8.25" fill="#bbbabf"/>
<rect x="285.41" y="113.62" width="9.00" height="7.85" fill="#2fb04a" stroke="#299a41" stroke-width="0.4"/>
<rect x="295.82" y="113.42" width="9.40" height="8.25" fill="#bbbabf"/>
<rect x="306.63" y="113.62" width="9.00" height="7.85" fill="#c8102e" stroke="#b00e28" stroke-width="0.4"/>
<rect x="317.24" y="113.62" width="9.00" height="7.85" fill="#2fb04a" stroke="#299a41" stroke-width="0.4"/>
<rect x="327.85" y="113.62" width="9.00" height="7.85" fill="#2fb04a" stroke="#299a41" stroke-width="0.4"/>
<rect x="338.26" y="113.42" width="9.40" height="8.25" fill="#bbbabf"/>
<rect x="349.07" y="113.62" width="9.00" height="7.85" fill="#2fb04a" stroke="#299a41" stroke-width="0.4"/>
<rect x="359.68" y="113.62" width="9.00" height="7.85" fill="#2fb04a" stroke="#299a41" stroke-width="0.4"/>
<rect x="370.09" y="113.42" width="9.40" height="8.25" fill="#bbbabf"/>
<rect x="380.70" y="113.42" width="9.40" height="8.25" fill="#bbbabf"/>
<rect x="391.31" y="113.42" width="9.40" height="8.25" fill="#bbbabf"/>
<rect x="402.12" y="113.62" width="9.00" height="7.85" fill="#2fb04a" stroke="#299a41" stroke-width="0.4"/>
<rect x="412.73" y="113.62" width="9.00" height="7.85" fill="#2fb04a" stroke="#299a41" stroke-width="0.4"/>
<rect x="428.80" y="113.42" width="78.00" height="8.25" fill="#bbbabf"/>
<rect x="453.00" y="113.42" width="5.10" height="8.25" fill="#c8102e"/>
<rect x="428.80" y="113.42" width="24.50" height="8.25" fill="#2fb04a"/>
<rect x="55.00" y="122.74" width="9.40" height="8.25" fill="#bbbabf"/>
<rect x="65.82" y="122.94" width="9.00" height="7.85" fill="#2fb04a" stroke="#299a41" stroke-width="0.4"/>
<rect x="76.44" y="122.94" width="9.00" height="7.85" fill="#2fb04a" stroke="#299a41" stroke-width="0.4"/>
<rect x="87.06" y="122.94" width="9.00" height="7.85" fill="#2fb04a" stroke="#299a41" stroke-width="0.4"/>
<rect x="97.48" y="122.74" width="9.40" height="8.25" fill="#bbbabf"/>
<rect x="108.30" y="122.94" width="9.00" height="7.85" fill="#c8102e" stroke="#b00e28" stroke-width="0.4"/>
<rect x="118.92" y="122.94" width="9.00" height="7.85" fill="#2fb04a" stroke="#299a41" stroke-width="0.4"/>
<rect x="129.34" y="122.74" width="9.40" height="8.25" fill="#bbbabf"/>
<rect x="139.96" y="122.74" width="9.40" height="8.25" fill="#bbbabf"/>
<rect x="150.58" y="122.74" width="9.40" height="8.25" fill="#bbbabf"/>
<rect x="161.20" y="122.74" width="9.40" height="8.25" fill="#bbbabf"/>
<rect x="171.82" y="122.74" width="9.40" height="8.25" fill="#bbbabf"/>
<rect x="182.44" y="122.74" width="9.40" height="8.25" fill="#bbbabf"/>
<rect x="193.06" y="122.74" width="9.40" height="8.25" fill="#bbbabf"/>
<rect x="203.68" y="122.74" width="9.40" height="8.25" fill="#bbbabf"/>
<rect x="214.30" y="122.74" width="9.40" height="8.25" fill="#bbbabf"/>
<rect x="224.92" y="122.74" width="9.40" height="8.25" fill="#bbbabf"/>
<rect x="239.20" y="122.94" width="9.00" height="7.85" fill="#2fb04a" stroke="#299a41" stroke-width="0.4"/>
<rect x="249.70" y="122.74" width="9.40" height="8.25" fill="#bbbabf"/>
<rect x="260.40" y="122.74" width="9.40" height="8.25" fill="#bbbabf"/>
<rect x="274.80" y="122.94" width="9.00" height="7.85" fill="#c8102e" stroke="#b00e28" stroke-width="0.4"/>
<rect x="285.41" y="122.94" width="9.00" height="7.85" fill="#c8102e" stroke="#b00e28" stroke-width="0.4"/>
<rect x="296.02" y="122.94" width="9.00" height="7.85" fill="#c8102e" stroke="#b00e28" stroke-width="0.4"/>
<rect x="306.43" y="122.74" width="9.40" height="8.25" fill="#bbbabf"/>
<rect x="317.24" y="122.94" width="9.00" height="7.85" fill="#2fb04a" stroke="#299a41" stroke-width="0.4"/>
<rect x="327.65" y="122.74" width="9.40" height="8.25" fill="#bbbabf"/>
<rect x="338.26" y="122.74" width="9.40" height="8.25" fill="#bbbabf"/>
<rect x="348.87" y="122.74" width="9.40" height="8.25" fill="#bbbabf"/>
<rect x="359.68" y="122.94" width="9.00" height="7.85" fill="#c8102e" stroke="#b00e28" stroke-width="0.4"/>
<rect x="370.29" y="122.94" width="9.00" height="7.85" fill="#c8102e" stroke="#b00e28" stroke-width="0.4"/>
<rect x="380.90" y="122.94" width="9.00" height="7.85" fill="#2fb04a" stroke="#299a41" stroke-width="0.4"/>
<rect x="391.31" y="122.74" width="9.40" height="8.25" fill="#bbbabf"/>
<rect x="402.12" y="122.94" width="9.00" height="7.85" fill="#2fb04a" stroke="#299a41" stroke-width="0.4"/>
<rect x="412.53" y="122.74" width="9.40" height="8.25" fill="#bbbabf"/>
<rect x="428.80" y="122.74" width="78.00" height="8.25" fill="#bbbabf"/>
<rect x="448.70" y="122.74" width="9.40" height="8.25" fill="#c8102e"/>
<rect x="428.80" y="122.74" width="20.20" height="8.25" fill="#2fb04a"/>
<rect x="55.20" y="132.26" width="9.00" height="7.85" fill="#2fb04a" stroke="#299a41" stroke-width="0.4"/>
<rect x="65.62" y="132.06" width="9.40" height="8.25" fill="#bbbabf"/>
<rect x="76.24" y="132.06" width="9.40" height="8.25" fill="#bbbabf"/>
<rect x="86.86" y="132.06" width="9.40" height="8.25" fill="#bbbabf"/>
<rect x="97.48" y="132.06" width="9.40" height="8.25" fill="#bbbabf"/>
<rect x="108.10" y="132.06" width="9.40" height="8.25" fill="#bbbabf"/>
<rect x="118.72" y="132.06" width="9.40" height="8.25" fill="#bbbabf"/>
<rect x="129.34" y="132.06" width="9.40" height="8.25" fill="#bbbabf"/>
<rect x="140.16" y="132.26" width="9.00" height="7.85" fill="#2fb04a" stroke="#299a41" stroke-width="0.4"/>
<rect x="150.58" y="132.06" width="9.40" height="8.25" fill="#bbbabf"/>
<rect x="161.20" y="132.06" width="9.40" height="8.25" fill="#bbbabf"/>
<rect x="171.82" y="132.06" width="9.40" height="8.25" fill="#bbbabf"/>
<rect x="182.44" y="132.06" width="9.40" height="8.25" fill="#bbbabf"/>
<rect x="193.06" y="132.06" width="9.40" height="8.25" fill="#bbbabf"/>
<rect x="203.88" y="132.26" width="9.00" height="3.73" fill="#c8102e" stroke="#b00e28" stroke-width="0.4"/>
<rect x="203.88" y="136.38" width="9.00" height="3.73" fill="#a4c08b" stroke="#90a87a" stroke-width="0.4"/>
<rect x="214.30" y="132.06" width="9.40" height="8.25" fill="#bbbabf"/>
<rect x="224.92" y="132.06" width="9.40" height="8.25" fill="#bbbabf"/>
<rect x="239.00" y="132.06" width="9.40" height="8.25" fill="#bbbabf"/>
<rect x="249.70" y="132.06" width="9.40" height="8.25" fill="#bbbabf"/>
<rect x="260.40" y="132.06" width="9.40" height="8.25" fill="#bbbabf"/>
<rect x="274.60" y="132.06" width="9.40" height="8.25" fill="#bbbabf"/>
<rect x="285.21" y="132.06" width="9.40" height="8.25" fill="#bbbabf"/>
<rect x="295.82" y="132.06" width="9.40" height="8.25" fill="#bbbabf"/>
<rect x="306.43" y="132.06" width="9.40" height="8.25" fill="#bbbabf"/>
<rect x="317.04" y="132.06" width="9.40" height="8.25" fill="#bbbabf"/>
<rect x="327.65" y="132.06" width="9.40" height="8.25" fill="#bbbabf"/>
<rect x="338.26" y="132.06" width="9.40" height="8.25" fill="#bbbabf"/>
<rect x="348.87" y="132.06" width="9.40" height="8.25" fill="#bbbabf"/>
<rect x="359.48" y="132.06" width="9.40" height="8.25" fill="#bbbabf"/>
<rect x="370.29" y="132.26" width="9.00" height="3.73" fill="#c8102e" stroke="#b00e28" stroke-width="0.4"/>
<rect x="370.29" y="136.38" width="9.00" height="3.73" fill="#a4c08b" stroke="#90a87a" stroke-width="0.4"/>
<rect x="380.70" y="132.06" width="9.40" height="8.25" fill="#bbbabf"/>
<rect x="391.51" y="132.26" width="9.00" height="7.85" fill="#a4c08b" stroke="#90a87a" stroke-width="0.4"/>
<rect x="401.92" y="132.06" width="9.40" height="8.25" fill="#bbbabf"/>
<rect x="412.73" y="132.26" width="9.00" height="7.85" fill="#2fb04a" stroke="#299a41" stroke-width="0.4"/>
<rect x="428.80" y="132.06" width="78.00" height="8.25" fill="#bbbabf"/>
<rect x="437.95" y="132.06" width="4.85" height="8.25" fill="#c8102e"/>
<rect x="428.80" y="132.06" width="9.45" height="8.25" fill="#2fb04a"/>
<rect x="55.00" y="141.38" width="9.40" height="8.25" fill="#bbbabf"/>
<rect x="65.62" y="141.38" width="9.40" height="8.25" fill="#bbbabf"/>
<rect x="76.44" y="141.58" width="9.00" height="7.85" fill="#c8102e" stroke="#b00e28" stroke-width="0.4"/>
<rect x="86.86" y="141.38" width="9.40" height="8.25" fill="#bbbabf"/>
<rect x="97.48" y="141.38" width="9.40" height="8.25" fill="#bbbabf"/>
<rect x="108.10" y="141.38" width="9.40" height="8.25" fill="#bbbabf"/>
<rect x="118.72" y="141.38" width="9.40" height="8.25" fill="#bbbabf"/>
<rect x="129.34" y="141.38" width="9.40" height="8.25" fill="#bbbabf"/>
<rect x="139.96" y="141.38" width="9.40" height="8.25" fill="#bbbabf"/>
<rect x="150.78" y="141.58" width="9.00" height="7.85" fill="#c8102e" stroke="#b00e28" stroke-width="0.4"/>
<rect x="161.40" y="141.58" width="9.00" height="7.85" fill="#c8102e" stroke="#b00e28" stroke-width="0.4"/>
<rect x="171.82" y="141.38" width="9.40" height="8.25" fill="#bbbabf"/>
<rect x="182.44" y="141.38" width="9.40" height="8.25" fill="#bbbabf"/>
<rect x="193.06" y="141.38" width="9.40" height="8.25" fill="#bbbabf"/>
<rect x="203.68" y="141.38" width="9.40" height="8.25" fill="#bbbabf"/>
<rect x="214.30" y="141.38" width="9.40" height="8.25" fill="#bbbabf"/>
<rect x="224.92" y="141.38" width="9.40" height="8.25" fill="#bbbabf"/>
<rect x="239.00" y="141.38" width="9.40" height="8.25" fill="#bbbabf"/>
<rect x="249.70" y="141.38" width="9.40" height="8.25" fill="#bbbabf"/>
<rect x="260.40" y="141.38" width="9.40" height="8.25" fill="#bbbabf"/>
<rect x="274.60" y="141.38" width="9.40" height="8.25" fill="#bbbabf"/>
<rect x="285.21" y="141.38" width="9.40" height="8.25" fill="#bbbabf"/>
<rect x="295.82" y="141.38" width="9.40" height="8.25" fill="#bbbabf"/>
<rect x="306.63" y="141.58" width="9.00" height="7.85" fill="#2fb04a" stroke="#299a41" stroke-width="0.4"/>
<rect x="317.04" y="141.38" width="9.40" height="8.25" fill="#bbbabf"/>
<rect x="327.65" y="141.38" width="9.40" height="8.25" fill="#bbbabf"/>
<rect x="338.26" y="141.38" width="9.40" height="8.25" fill="#bbbabf"/>
<rect x="348.87" y="141.38" width="9.40" height="8.25" fill="#bbbabf"/>
<rect x="359.48" y="141.38" width="9.40" height="8.25" fill="#bbbabf"/>
<rect x="370.09" y="141.38" width="9.40" height="8.25" fill="#bbbabf"/>
<rect x="380.70" y="141.38" width="9.40" height="8.25" fill="#bbbabf"/>
<rect x="391.31" y="141.38" width="9.40" height="8.25" fill="#bbbabf"/>
<rect x="402.12" y="141.58" width="9.00" height="3.73" fill="#c8102e" stroke="#b00e28" stroke-width="0.4"/>
<rect x="402.12" y="145.70" width="9.00" height="3.73" fill="#a4c08b" stroke="#90a87a" stroke-width="0.4"/>
<rect x="412.53" y="141.38" width="9.40" height="8.25" fill="#bbbabf"/>
<rect x="428.80" y="141.38" width="78.00" height="8.25" fill="#bbbabf"/>
<rect x="431.60" y="141.38" width="9.40" height="8.25" fill="#c8102e"/>
<rect x="428.80" y="141.38" width="3.10" height="8.25" fill="#2fb04a"/>
<rect x="55.00" y="150.70" width="9.40" height="8.25" fill="#bbbabf"/>
<rect x="65.62" y="150.70" width="9.40" height="8.25" fill="#bbbabf"/>
<rect x="76.24" y="150.70" width="9.40" height="8.25" fill="#bbbabf"/>
<rect x="86.86" y="150.70" width="9.40" height="8.25" fill="#bbbabf"/>
<rect x="97.48" y="150.70" width="9.40" height="8.25" fill="#bbbabf"/>
<rect x="108.10" y="150.70" width="9.40" height="8.25" fill="#bbbabf"/>
<rect x="118.72" y="150.70" width="9.40" height="8.25" fill="#bbbabf"/>
<rect x="129.34" y="150.70" width="9.40" height="8.25" fill="#bbbabf"/>
<rect x="139.96" y="150.70" width="9.40" height="8.25" fill="#bbbabf"/>
<rect x="150.58" y="150.70" width="9.40" height="8.25" fill="#bbbabf"/>
<rect x="161.20" y="150.70" width="9.40" height="8.25" fill="#bbbabf"/>
<rect x="172.02" y="150.90" width="9.00" height="7.85" fill="#2fb04a" stroke="#299a41" stroke-width="0.4"/>
<rect x="182.44" y="150.70" width="9.40" height="8.25" fill="#bbbabf"/>
<rect x="193.06" y="150.70" width="9.40" height="8.25" fill="#bbbabf"/>
<rect x="203.88" y="150.90" width="9.00" height="7.85" fill="#c8102e" stroke="#b00e28" stroke-width="0.4"/>
<rect x="214.30" y="150.70" width="9.40" height="8.25" fill="#bbbabf"/>
<rect x="224.92" y="150.70" width="9.40" height="8.25" fill="#bbbabf"/>
<rect x="239.00" y="150.70" width="9.40" height="8.25" fill="#bbbabf"/>
<rect x="249.70" y="150.70" width="9.40" height="8.25" fill="#bbbabf"/>
<rect x="260.60" y="150.90" width="9.00" height="7.85" fill="#2fb04a" stroke="#299a41" stroke-width="0.4"/>
<rect x="274.60" y="150.70" width="9.40" height="8.25" fill="#bbbabf"/>
<rect x="285.21" y="150.70" width="9.40" height="8.25" fill="#bbbabf"/>
<rect x="295.82" y="150.70" width="9.40" height="8.25" fill="#bbbabf"/>
<rect x="306.43" y="150.70" width="9.40" height="8.25" fill="#bbbabf"/>
<rect x="317.24" y="150.90" width="9.00" height="7.85" fill="#2fb04a" stroke="#299a41" stroke-width="0.4"/>
<rect x="327.65" y="150.70" width="9.40" height="8.25" fill="#bbbabf"/>
<rect x="338.26" y="150.70" width="9.40" height="8.25" fill="#bbbabf"/>
<rect x="348.87" y="150.70" width="9.40" height="8.25" fill="#bbbabf"/>
<rect x="359.48" y="150.70" width="9.40" height="8.25" fill="#bbbabf"/>
<rect x="370.09" y="150.70" width="9.40" height="8.25" fill="#bbbabf"/>
<rect x="380.70" y="150.70" width="9.40" height="8.25" fill="#bbbabf"/>
<rect x="391.31" y="150.70" width="9.40" height="8.25" fill="#bbbabf"/>
<rect x="401.92" y="150.70" width="9.40" height="8.25" fill="#bbbabf"/>
<rect x="412.53" y="150.70" width="9.40" height="8.25" fill="#bbbabf"/>
<rect x="428.80" y="150.70" width="78.00" height="8.25" fill="#bbbabf"/>
<rect x="436.40" y="150.70" width="2.80" height="8.25" fill="#c8102e"/>
<rect x="428.80" y="150.70" width="7.90" height="8.25" fill="#2fb04a"/>
<rect x="55.00" y="160.02" width="9.40" height="8.25" fill="#bbbabf"/>
<rect x="65.62" y="160.02" width="9.40" height="8.25" fill="#bbbabf"/>
<rect x="76.24" y="160.02" width="9.40" height="8.25" fill="#bbbabf"/>
<rect x="86.86" y="160.02" width="9.40" height="8.25" fill="#bbbabf"/>
<rect x="97.48" y="160.02" width="9.40" height="8.25" fill="#bbbabf"/>
<rect x="108.10" y="160.02" width="9.40" height="8.25" fill="#bbbabf"/>
<rect x="118.92" y="160.22" width="9.00" height="7.85" fill="#2fb04a" stroke="#299a41" stroke-width="0.4"/>
<rect x="129.34" y="160.02" width="9.40" height="8.25" fill="#bbbabf"/>
<rect x="139.96" y="160.02" width="9.40" height="8.25" fill="#bbbabf"/>
<rect x="150.58" y="160.02" width="9.40" height="8.25" fill="#bbbabf"/>
<rect x="161.20" y="160.02" width="9.40" height="8.25" fill="#bbbabf"/>
<rect x="171.82" y="160.02" width="9.40" height="8.25" fill="#bbbabf"/>
<rect x="182.64" y="160.22" width="9.00" height="7.85" fill="#2fb04a" stroke="#299a41" stroke-width="0.4"/>
<rect x="193.06" y="160.02" width="9.40" height="8.25" fill="#bbbabf"/>
<rect x="203.68" y="160.02" width="9.40" height="8.25" fill="#bbbabf"/>
<rect x="214.30" y="160.02" width="9.40" height="8.25" fill="#bbbabf"/>
<rect x="224.92" y="160.02" width="9.40" height="8.25" fill="#bbbabf"/>
<rect x="239.00" y="160.02" width="9.40" height="8.25" fill="#bbbabf"/>
<rect x="249.70" y="160.02" width="9.40" height="8.25" fill="#bbbabf"/>
<rect x="260.40" y="160.02" width="9.40" height="8.25" fill="#bbbabf"/>
<rect x="274.60" y="160.02" width="9.40" height="8.25" fill="#bbbabf"/>
<rect x="285.21" y="160.02" width="9.40" height="8.25" fill="#bbbabf"/>
<rect x="295.82" y="160.02" width="9.40" height="8.25" fill="#bbbabf"/>
<rect x="306.43" y="160.02" width="9.40" height="8.25" fill="#bbbabf"/>
<rect x="317.04" y="160.02" width="9.40" height="8.25" fill="#bbbabf"/>
<rect x="327.65" y="160.02" width="9.40" height="8.25" fill="#bbbabf"/>
<rect x="338.26" y="160.02" width="9.40" height="8.25" fill="#bbbabf"/>
<rect x="348.87" y="160.02" width="9.40" height="8.25" fill="#bbbabf"/>
<rect x="359.48" y="160.02" width="9.40" height="8.25" fill="#bbbabf"/>
<rect x="370.09" y="160.02" width="9.40" height="8.25" fill="#bbbabf"/>
<rect x="380.70" y="160.02" width="9.40" height="8.25" fill="#bbbabf"/>
<rect x="391.31" y="160.02" width="9.40" height="8.25" fill="#bbbabf"/>
<rect x="401.92" y="160.02" width="9.40" height="8.25" fill="#bbbabf"/>
<rect x="412.53" y="160.02" width="9.40" height="8.25" fill="#bbbabf"/>
<rect x="428.80" y="160.02" width="78.00" height="8.25" fill="#bbbabf"/>
<rect x="428.80" y="160.02" width="6.10" height="8.25" fill="#2fb04a"/>
<path d="M428.4,173.6 V171.6 Q428.4,170.9 429.1,170.9 H506.5 Q507.2,170.9 507.2,171.6 V173.6" fill="none" stroke="#7fa3d4" stroke-width="0.8"/>
<rect x="25.10" y="189.30" width="11.80" height="10.20" fill="#29abe2"/>
<rect x="25.10" y="199.85" width="11.80" height="10.20" fill="#c0722a"/>
<rect x="25.10" y="210.40" width="11.80" height="10.20" fill="#5d2873"/>
<rect x="25.10" y="220.95" width="11.80" height="10.20" fill="#a6c48c"/>
<rect x="25.10" y="231.50" width="11.80" height="10.20" fill="#08694f"/>
<rect x="177.10" y="189.30" width="11.80" height="10.20" fill="#2fb04a"/>
<rect x="177.10" y="199.80" width="11.80" height="10.20" fill="#c8102e"/>
<rect x="177.10" y="210.30" width="11.80" height="10.20" fill="#a4c08b"/>
<rect x="177.10" y="220.80" width="11.80" height="10.20" fill="#bbbabf"/>
<rect x="303.80" y="189.60" width="11.80" height="10.20" fill="#0f5089"/>
<rect x="303.80" y="200.20" width="11.80" height="10.20" fill="#bbbabf"/>
<rect x="303.80" y="226.30" width="11.80" height="10.20" fill="#0f5089"/>
<rect x="303.80" y="236.90" width="11.80" height="10.20" fill="#bbbabf"/>
<g style="filter:grayscale(1)">
<text transform="translate(59.83,17.50) rotate(-45)" font-size="7.6" style="stroke-width:0.28px">1</text>
<text transform="translate(70.45,17.50) rotate(-45)" font-size="7.6" style="stroke-width:0.28px">2</text>
<text transform="translate(81.07,17.50) rotate(-45)" font-size="7.6" style="stroke-width:0.28px">3</text>
<text transform="translate(91.69,17.50) rotate(-45)" font-size="7.6" style="stroke-width:0.28px">4</text>
<text transform="translate(102.31,17.50) rotate(-45)" font-size="7.6" style="stroke-width:0.28px">5</text>
<text transform="translate(112.93,17.50) rotate(-45)" font-size="7.6" style="stroke-width:0.28px">6</text>
<text transform="translate(123.55,17.50) rotate(-45)" font-size="7.6" style="stroke-width:0.28px">7</text>
<text transform="translate(134.17,17.50) rotate(-45)" font-size="7.6" style="stroke-width:0.28px">8</text>
<text transform="translate(144.79,17.50) rotate(-45)" font-size="7.6" style="stroke-width:0.28px">9</text>
<text transform="translate(153.92,17.50) rotate(-45)" font-size="7.6" style="stroke-width:0.28px">10</text>
<text transform="translate(164.54,17.50) rotate(-45)" font-size="7.6" style="stroke-width:0.28px">11</text>
<text transform="translate(175.16,17.50) rotate(-45)" font-size="7.6" style="stroke-width:0.28px">12</text>
<text transform="translate(185.78,17.50) rotate(-45)" font-size="7.6" style="stroke-width:0.28px">13</text>
<text transform="translate(196.40,17.50) rotate(-45)" font-size="7.6" style="stroke-width:0.28px">14</text>
<text transform="translate(207.02,17.50) rotate(-45)" font-size="7.6" style="stroke-width:0.28px">15</text>
<text transform="translate(215.40,17.50) rotate(-45)" font-size="7.6" style="stroke-width:0.28px">16.1</text>
<text transform="translate(226.02,17.50) rotate(-45)" font-size="7.6" style="stroke-width:0.28px">16.2</text>
<text transform="translate(242.34,17.50) rotate(-45)" font-size="7.6" style="stroke-width:0.28px">17</text>
<text transform="translate(253.04,17.50) rotate(-45)" font-size="7.6" style="stroke-width:0.28px">18</text>
<text transform="translate(263.74,17.50) rotate(-45)" font-size="7.6" style="stroke-width:0.28px">19</text>
<text transform="translate(275.70,17.50) rotate(-45)" font-size="7.6" style="stroke-width:0.28px">20.1</text>
<text transform="translate(286.31,17.50) rotate(-45)" font-size="7.6" style="stroke-width:0.28px">20.2</text>
<text transform="translate(296.92,17.50) rotate(-45)" font-size="7.6" style="stroke-width:0.28px">20.3</text>
<text transform="translate(309.77,17.50) rotate(-45)" font-size="7.6" style="stroke-width:0.28px">21</text>
<text transform="translate(320.38,17.50) rotate(-45)" font-size="7.6" style="stroke-width:0.28px">22</text>
<text transform="translate(330.99,17.50) rotate(-45)" font-size="7.6" style="stroke-width:0.28px">23</text>
<text transform="translate(341.60,17.50) rotate(-45)" font-size="7.6" style="stroke-width:0.28px">24</text>
<text transform="translate(352.21,17.50) rotate(-45)" font-size="7.6" style="stroke-width:0.28px">25</text>
<text transform="translate(362.82,17.50) rotate(-45)" font-size="7.6" style="stroke-width:0.28px">26</text>
<text transform="translate(373.43,17.50) rotate(-45)" font-size="7.6" style="stroke-width:0.28px">27</text>
<text transform="translate(384.04,17.50) rotate(-45)" font-size="7.6" style="stroke-width:0.28px">28</text>
<text transform="translate(393.97,17.50) rotate(-45)" font-size="7.6" style="stroke-width:0.28px">29<tspan font-size="4.5" dy="-2.2">*</tspan></text>
<text transform="translate(405.26,17.50) rotate(-45)" font-size="7.6" style="stroke-width:0.28px">30</text>
<text transform="translate(415.87,17.50) rotate(-45)" font-size="7.6" style="stroke-width:0.28px">31</text>
<text x="6.10" y="26.67" font-size="7.8" textLength="44.7" lengthAdjust="spacingAndGlyphs" text-anchor="start"  >Prim/sec VRL</text>
<text x="6.10" y="36.12" font-size="7.8" textLength="27.9" lengthAdjust="spacingAndGlyphs" text-anchor="start"  >Clonality</text>
<text x="6.10" y="45.57" font-size="7.8" textLength="28.4" lengthAdjust="spacingAndGlyphs" text-anchor="start"  >Cytology</text>
<text x="6.10" y="63.73" font-size="7.7" textLength="25.6" lengthAdjust="spacingAndGlyphs" text-anchor="start" font-style="italic" >MYD88</text>
<text x="6.10" y="73.04" font-size="7.7" textLength="17.4" lengthAdjust="spacingAndGlyphs" text-anchor="start" font-style="italic" >PIM1</text>
<text x="6.10" y="82.36" font-size="7.7" textLength="25.6" lengthAdjust="spacingAndGlyphs" text-anchor="start" font-style="italic" >CD79B</text>
<text x="6.10" y="91.69" font-size="7.7" textLength="21.2" lengthAdjust="spacingAndGlyphs" text-anchor="start" font-style="italic" >IGLL5</text>
<text x="6.10" y="101.00" font-size="7.7" textLength="32.0" lengthAdjust="spacingAndGlyphs" text-anchor="start" font-style="italic" >TBL1XR1</text>
<text x="6.10" y="110.32" font-size="7.7" textLength="18.0" lengthAdjust="spacingAndGlyphs" text-anchor="start" font-style="italic" >ETV6</text>
<text x="6.10" y="119.64" font-size="7.7" textLength="19.3" lengthAdjust="spacingAndGlyphs" text-anchor="start" font-style="italic" >BTG1</text>
<text x="6.10" y="128.97" font-size="7.7" textLength="19.9" lengthAdjust="spacingAndGlyphs" text-anchor="start" font-style="italic" >BTG2</text>
<text x="6.10" y="138.28" font-size="7.7" textLength="26.3" lengthAdjust="spacingAndGlyphs" text-anchor="start" font-style="italic" >PRDM1</text>
<text x="6.10" y="147.60" font-size="7.7" textLength="16.7" lengthAdjust="spacingAndGlyphs" text-anchor="start" font-style="italic" >IRF4</text>
<text x="6.10" y="156.92" font-size="7.7" textLength="30.7" lengthAdjust="spacingAndGlyphs" text-anchor="start" font-style="italic" >CARD11</text>
<text x="6.10" y="166.25" font-size="7.7" textLength="33.2" lengthAdjust="spacingAndGlyphs" text-anchor="start" font-style="italic" >CREBBP</text>
<text x="428.50" y="182.40" font-size="7.4" text-anchor="middle"  >0</text>
<text x="507.00" y="182.40" font-size="7.4" textLength="12.5" lengthAdjust="spacingAndGlyphs" text-anchor="middle"  >100</text>
<text x="446.50" y="191.90" font-size="8.8" textLength="42.3" lengthAdjust="spacingAndGlyphs" text-anchor="start" stroke="#1a1a1a" style="stroke-width:0.45px" >Frequency (%)</text>
<text x="24.80" y="184.30" font-size="7.1" textLength="41.9" lengthAdjust="spacingAndGlyphs" text-anchor="start"  >Prim/sec VRL</text>
<text x="39.80" y="196.70" font-size="7.1" textLength="37.9" lengthAdjust="spacingAndGlyphs" text-anchor="start"  >Primary VRL</text>
<text x="39.80" y="207.25" font-size="7.1" textLength="94.5" lengthAdjust="spacingAndGlyphs" text-anchor="start"  >Synchronous VRL and PCNSL</text>
<text x="39.80" y="217.80" font-size="7.1" textLength="88.6" lengthAdjust="spacingAndGlyphs" text-anchor="start"  >Secondary VRL with PCNSL</text>
<text x="39.80" y="228.35" font-size="7.1" textLength="117.5" lengthAdjust="spacingAndGlyphs" text-anchor="start"  >Secondary VRL with testicular DLBCL</text>
<text x="39.80" y="238.90" font-size="7.1" textLength="116.4" lengthAdjust="spacingAndGlyphs" text-anchor="start"  >Secondary VRL with systemic DLBCL</text>
<text x="176.80" y="184.30" font-size="7.1" textLength="30.0" lengthAdjust="spacingAndGlyphs" text-anchor="start"  >Mutations</text>
<text x="193.30" y="196.70" font-size="7.1" textLength="86.9" lengthAdjust="spacingAndGlyphs" text-anchor="start"  >1 mutation coding sequence</text>
<text x="192.20" y="207.20" font-size="7.1" textLength="92.4" lengthAdjust="spacingAndGlyphs" text-anchor="start"  >&gt;1 mutation coding sequence</text>
<text x="192.80" y="217.70" font-size="7.1" textLength="59.1" lengthAdjust="spacingAndGlyphs" text-anchor="start"  >Mutation splice site</text>
<text x="192.80" y="228.20" font-size="7.1" textLength="36.8" lengthAdjust="spacingAndGlyphs" text-anchor="start"  >No mutation</text>
<text x="303.50" y="185.90" font-size="7.1" textLength="75.2" lengthAdjust="spacingAndGlyphs" text-anchor="start"  >Suspicious/atypical cells</text>
<text x="319.00" y="196.60" font-size="7.1" textLength="10.5" lengthAdjust="spacingAndGlyphs" text-anchor="start"  >Yes</text>
<text x="319.30" y="207.20" font-size="7.1" textLength="8.5" lengthAdjust="spacingAndGlyphs" text-anchor="start"  >No</text>
<text x="303.50" y="222.60" font-size="7.1" textLength="81.0" lengthAdjust="spacingAndGlyphs" text-anchor="start"  >Clonal IGH rearrangement</text>
<text x="319.00" y="233.30" font-size="7.1" textLength="10.5" lengthAdjust="spacingAndGlyphs" text-anchor="start"  >Yes</text>
<text x="319.30" y="243.90" font-size="7.1" textLength="8.5" lengthAdjust="spacingAndGlyphs" text-anchor="start"  >No</text>
</g>
</svg>
</body></html>
